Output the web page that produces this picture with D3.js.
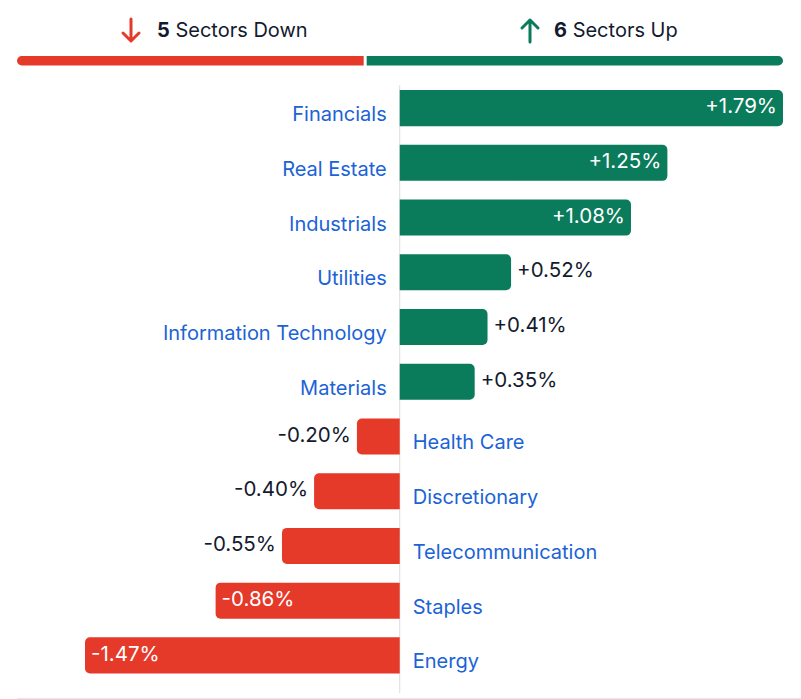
<!DOCTYPE html>
<html>
<head>
<meta charset="utf-8">
<script src="https://cdn.jsdelivr.net/npm/d3@7"></script>
<style>
  body { margin: 0; background: #fff; }
  svg { display: block; font-family: Inter, "Noto Sans", sans-serif; }
</style>
</head>
<body>
<script>
//Data
var sectors = ["Financials", "Real Estate", "Industrials", "Utilities", "Information Technology",
               "Materials", "Health Care", "Discretionary", "Telecommunication", "Staples", "Energy"];
var changes = [1.79, 1.25, 1.08, 0.52, 0.41, 0.35, -0.20, -0.40, -0.55, -0.86, -1.47];
var headerLabels = ["Sectors Down", "Sectors Up"];

var data = sectors.map(function(s, i) { return {name: s, value: changes[i]}; });
var downCount = changes.filter(function(v) { return v < 0; }).length;
var upCount = changes.filter(function(v) { return v > 0; }).length;

var width = 801, height = 699;
var red = "#e5392a", green = "#0a7b5b", blue = "#1b63d6", ink = "#141a2e";

var svg = d3.select("body").append("svg")
    .attr("width", width)
    .attr("height", height);

//Scales
var x = d3.scaleLinear()
    .domain([d3.min(changes), d3.max(changes)])
    .range([85, 783]);

var y = d3.scaleBand()
    .domain(sectors)
    .range([90, 673.5])
    .paddingInner(0.34)
    .paddingOuter(0);

//Header counts
var countX = d3.scaleLinear().domain([0, downCount + upCount]).range([17, 783]);
var split = countX(downCount);

function roundedSide(x0, x1, y0, h, r, side) {
  // bar with only the outer side rounded
  var p = d3.path();
  if (side == "right") {
    p.moveTo(x0, y0);
    p.lineTo(x1 - r, y0);
    p.arcTo(x1, y0, x1, y0 + r, r);
    p.lineTo(x1, y0 + h - r);
    p.arcTo(x1, y0 + h, x1 - r, y0 + h, r);
    p.lineTo(x0, y0 + h);
  } else {
    p.moveTo(x1, y0);
    p.lineTo(x0 + r, y0);
    p.arcTo(x0, y0, x0, y0 + r, r);
    p.lineTo(x0, y0 + h - r);
    p.arcTo(x0, y0 + h, x0 + r, y0 + h, r);
    p.lineTo(x1, y0 + h);
  }
  p.closePath();
  return p.toString();
}

var head = svg.append("g");
head.append("path")
    .attr("d", roundedSide(17, split - 1.5, 56, 9.5, 4.75, "left"))
    .attr("fill", red);
head.append("path")
    .attr("d", roundedSide(split + 1.5, 783, 56, 9.5, 4.75, "right"))
    .attr("fill", green);

//arrows
head.append("path")
    .attr("d", "M131,19V41M123,33L131,41L139,33")
    .attr("fill", "none").attr("stroke", red)
    .attr("stroke-width", 3).attr("stroke-linecap", "round").attr("stroke-linejoin", "round");
head.append("path")
    .attr("d", "M530,42V20M522,28L530,20L538,28")
    .attr("fill", "none").attr("stroke", green)
    .attr("stroke-width", 3).attr("stroke-linecap", "round").attr("stroke-linejoin", "round");

[[157, downCount, headerLabels[0]], [554, upCount, headerLabels[1]]].forEach(function(h) {
  var t = head.append("text")
      .attr("x", h[0]).attr("y", 37)
      .attr("font-size", 20).attr("fill", ink);
  t.append("tspan").attr("font-weight", 700).text(h[1]);
  t.append("tspan").text(" " + h[2]);
});

//Zero line
svg.append("line")
    .attr("x1", x(0)).attr("x2", x(0))
    .attr("y1", 85).attr("y2", 693)
    .attr("stroke", "#dcdcdc").attr("stroke-width", 1);

//Bottom rule
svg.append("line")
    .attr("x1", 17).attr("x2", width)
    .attr("y1", 698.5).attr("y2", 698.5)
    .attr("stroke", "#e6eef5").attr("stroke-width", 1.5);

//Bars
var rows = svg.append("g").selectAll("g")
    .data(data)
    .enter().append("g");

rows.append("path")
    .attr("d", function(d) {
      if (d.value >= 0) return roundedSide(x(0), x(d.value), y(d.name), y.bandwidth(), 5, "right");
      return roundedSide(x(d.value), x(0), y(d.name), y.bandwidth(), 5, "left");
    })
    .attr("fill", function(d) { return d.value >= 0 ? green : red; });

//Sector names
rows.append("text")
    .attr("x", function(d) { return d.value >= 0 ? x(0) - 13 : x(0) + 13; })
    .attr("y", function(d) { return y(d.name) + y.bandwidth() / 2 + 6; })
    .attr("dy", "0.35em")
    .attr("text-anchor", function(d) { return d.value >= 0 ? "end" : "start"; })
    .attr("font-size", 20)
    .attr("fill", blue)
    .text(function(d) { return d.name; });

//Values
var inside = 0.8;
rows.append("text")
    .attr("x", function(d) {
      var big = Math.abs(d.value) >= inside;
      if (d.value >= 0) return big ? x(d.value) - 6 : x(d.value) + 6;
      return big ? x(d.value) + 6 : x(d.value) - 6;
    })
    .attr("y", function(d) { return y(d.name) + y.bandwidth() / 2 - 2; })
    .attr("dy", "0.35em")
    .attr("text-anchor", function(d) {
      var big = Math.abs(d.value) >= inside;
      if (d.value >= 0) return big ? "end" : "start";
      return big ? "start" : "end";
    })
    .attr("font-size", 20.5)
    .attr("fill", function(d) { return Math.abs(d.value) >= inside ? "#fff" : ink; })
    .text(function(d) { return (d.value > 0 ? "+" : "") + d.value.toFixed(2) + "%"; });
</script>
</body>
</html>
